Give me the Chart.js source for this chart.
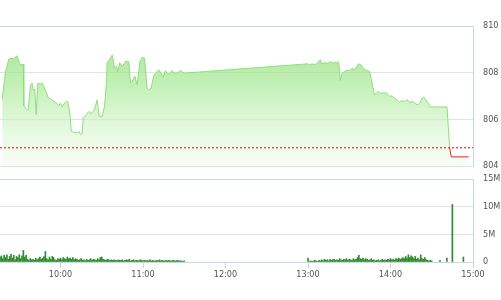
<!DOCTYPE html>
<html lang="vi">
<head>
<meta charset="UTF-8">
<title>Intraday</title>
<style>
  html, body { margin: 0; padding: 0; background: #fff; }
  canvas { position: absolute; left: 0; }
  #priceChart { top: 0; }
  #volChart { top: 170px; }
</style>
</head>
<body>
<canvas id="priceChart" width="501" height="170"></canvas>
<canvas id="volChart" width="501" height="130"></canvas>

<script src="https://cdn.jsdelivr.net/npm/chart.js"></script>
<script>
// time in minutes after midnight
var xMin = 556
var xMax = 900
var hourTicks = [600, 660, 720, 780, 840, 900]
var refPrice = 804.78

var priceTimes = [557.6, 560.0, 562.4, 563.7, 565.9, 568.5, 570.2, 571.4, 572.9, 573.3,
  575.8, 576.5, 578.2, 579.4, 580.2, 581.3, 582.3, 583.5, 585.5, 586.7,
  589.1, 591.1, 592.7, 595.1, 597.6, 598.8, 600.0, 601.2, 603.6, 605.3,
  606.8, 607.8, 609.7, 612.2, 613.3, 614.5, 615.8, 616.5, 618.2, 620.6,
  622.3, 624.7, 626.7, 628.1, 630.3, 632.0, 633.4, 633.9, 635.8, 637.6,
  639.3, 640.7, 641.7, 643.1, 644.9, 647.3, 649.7, 650.9, 652.1, 654.0,
  655.8, 657.7, 659.4, 661.1, 663.0, 664.2, 665.9, 667.8, 669.1, 671.5,
  672.7, 674.7, 676.3, 677.6, 679.5, 681.2, 682.4, 684.8, 687.2, 689.2,
  690.0, 780.0, 781.2, 783.0, 785.4, 787.8, 789.0, 790.2, 792.6, 794.3,
  796.3, 798.2, 799.9, 801.1, 802.3, 803.5, 804.8, 806.5, 808.4, 810.3,
  812.0, 813.7, 815.2, 816.8, 818.6, 820.5, 822.9, 824.8, 826.6, 828.3,
  829.7, 831.4, 833.1, 835.0, 837.5, 839.4, 841.1, 842.8, 844.8, 846.6,
  848.4, 850.1, 852.0, 853.9, 855.7, 857.3, 859.3, 861.2, 862.9, 864.1,
  865.3, 866.6, 867.7, 869.0, 881.1, 883.0, 884.2, 896.8]

var priceValues = [806.88, 808.04, 808.58, 808.62, 808.60, 808.72, 808.40, 808.33, 808.36, 806.58,
  806.41, 806.41, 807.48, 807.55, 807.24, 807.30, 806.20, 807.55, 807.52, 807.55,
  807.24, 806.94, 806.88, 806.77, 806.67, 806.58, 806.70, 806.53, 806.73, 806.77,
  806.27, 805.49, 805.44, 805.42, 805.49, 805.35, 805.39, 806.08, 806.16, 806.34,
  806.24, 806.41, 806.84, 806.13, 806.13, 806.56, 807.55, 808.40, 808.58, 808.76,
  808.19, 808.26, 808.05, 808.43, 808.26, 808.48, 808.48, 807.55, 807.62, 807.86,
  807.48, 808.48, 808.66, 808.62, 807.34, 807.27, 807.34, 807.86, 807.98, 808.12,
  808.01, 807.81, 808.09, 807.95, 807.95, 808.09, 807.98, 807.98, 808.09, 808.01,
  807.98, 808.38, 808.33, 808.38, 808.33, 808.48, 808.55, 808.38, 808.43, 808.40,
  808.48, 808.40, 808.46, 808.40, 808.48, 807.67, 807.98, 808.05, 808.12, 808.09,
  808.19, 808.12, 808.26, 808.38, 808.33, 808.15, 808.09, 808.05, 807.55, 807.05,
  807.13, 807.20, 807.10, 807.15, 807.10, 806.98, 807.01, 806.91, 806.84, 806.73,
  806.81, 806.76, 806.84, 806.73, 806.77, 806.70, 806.63, 806.67, 806.91, 806.95,
  806.87, 806.77, 806.67, 806.53, 806.53, 804.78, 804.39, 804.39]

// volume in millions, one bar per minute
var morningStart = 556
var morningVol = [0.9, 1.1, 0.6, 1.2, 0.8, 1.3, 0.5, 1.0, 1.4, 0.7,
  1.2, 0.4, 1.0, 0.8, 1.3, 0.6, 1.1, 2.1, 0.9, 1.2,
  0.5, 0.3, 0.6, 0.4, 0.5, 0.3, 0.7, 0.4, 0.6, 0.9,
  0.5, 0.7, 1.0, 1.9, 0.6, 0.4, 0.9, 0.5, 1.0, 0.8,
  0.4, 0.3, 0.6, 0.5, 0.7, 0.4, 0.8, 0.6, 0.5, 0.9,
  0.6, 0.7, 0.5, 0.8, 0.4, 0.6, 0.5, 0.3, 0.4, 0.6,
  0.3, 0.4, 0.2, 0.5, 0.3, 0.4, 0.6, 0.3, 0.5, 0.4,
  0.3, 0.6, 0.4, 0.8, 0.9, 0.5, 0.4, 0.3, 0.5, 0.4,
  0.3, 0.4, 0.3, 0.4, 0.3, 0.2, 0.4, 0.3, 0.3, 0.4,
  0.2, 0.3, 0.4, 0.3, 0.5, 0.2, 0.3, 0.4, 0.2, 0.3,
  0.3, 0.2, 0.4, 0.3, 0.2, 0.3, 0.2, 0.3, 0.2, 0.4,
  0.2, 0.3, 0.2, 0.2, 0.3, 0.2, 0.4, 0.2, 0.3, 0.2,
  0.2, 0.3, 0.2, 0.3, 0.2, 0.2, 0.3, 0.2, 0.2, 0.3,
  0.2, 0.2, 0.2, 0.1, 0.2]
var afternoonStart = 780
var afternoonVol = [0.7, 0.1, 0.2, 0.1, 0.2, 0.3, 0.2, 0.1, 0.3, 0.2,
  0.4, 0.2, 0.5, 0.3, 0.4, 0.2, 0.5, 0.3, 0.4, 0.5,
  0.3, 0.4, 0.3, 0.6, 0.4, 0.3, 0.5, 0.4, 0.6, 0.3,
  0.5, 0.4, 0.3, 0.6, 0.4, 0.5, 0.8, 1.2, 0.6, 0.5,
  0.7, 0.4, 0.6, 0.5, 0.3, 0.4, 0.6, 0.3, 0.4, 0.2,
  0.3, 0.4, 0.2, 0.3, 0.5, 0.3, 0.4, 0.3, 0.5, 0.4,
  0.6, 0.4, 0.5, 0.3, 0.6, 0.5, 0.7, 0.5, 0.6, 0.8,
  0.6, 1.0, 0.7, 1.3, 0.8, 1.1, 0.9, 0.6, 1.0, 0.5,
  0.7, 0.4, 1.3, 0.6, 0.5, 0.8, 0.4, 0.3, 0.2, 0.3,
  0.2]
var lateTimes = [876, 881, 885, 893]
var lateVol = [0.3, 0.7, 10.4, 0.9]

var green = '#8edf7b'
var red = '#e41f1f'
var borderBlue = '#c9d6e3'
var gridGrey = '#e2e2e2'
var tickFont = { family: "'Liberation Sans Narrow', 'DejaVu Sans Condensed', Arial, sans-serif", size: 9 }

var pricePoints = priceTimes.map((t, i) => ({ x: t, y: priceValues[i] }))

var volPoints = []
morningVol.forEach((v, i) => volPoints.push({ x: morningStart + i, y: v }))
afternoonVol.forEach((v, i) => volPoints.push({ x: afternoonStart + i, y: v }))
lateVol.forEach((v, i) => volPoints.push({ x: lateTimes[i], y: v }))

const hhmm = (m) => Math.floor(m / 60) + ':' + String(m % 60).padStart(2, '0')

const areaFill = (ctx) => {
  var area = ctx.chart.chartArea
  if (!area) return 'rgba(150,225,130,0.6)'
  var g = ctx.chart.ctx.createLinearGradient(0, area.top, 0, area.bottom)
  g.addColorStop(0, 'rgba(140,222,118,0.85)')
  g.addColorStop(0.45, 'rgba(178,236,162,0.75)')
  g.addColorStop(1, 'rgba(236,250,232,0.4)')
  return g
}

const below = (v) => v < refPrice - 0.001

// no extra room for the end labels, the padding below decides the plot box
const noLabelPad = (s) => { s.paddingTop = 0; s.paddingBottom = 0; s.width = 28 }

new Chart(document.getElementById('priceChart'), {
  type: 'line',
  data: {
    datasets: [{
      data: pricePoints,
      borderColor: green,
      borderWidth: 1,
      backgroundColor: areaFill,
      fill: 'start',
      pointRadius: 0,
      tension: 0,
      segment: {
        borderColor: ctx => (below(ctx.p0.parsed.y) || below(ctx.p1.parsed.y)) ? red : green
      },
      order: 2
    }, {
      data: [{ x: xMin, y: refPrice }, { x: xMax, y: refPrice }],
      borderColor: '#e00000',
      borderWidth: 1,
      borderDash: [2, 2],
      pointRadius: 0,
      fill: false,
      order: 1
    }]
  },
  options: {
    responsive: false,
    animation: false,
    layout: { padding: { top: 26, bottom: 4, left: 0, right: 0 } },
    plugins: { legend: { display: false }, tooltip: { enabled: false } },
    scales: {
      x: {
        type: 'linear', min: xMin, max: xMax, display: false
      },
      y: {
        position: 'right', min: 804, max: 810,
        ticks: { stepSize: 2, padding: 10, color: '#555', font: tickFont },
        grid: {
          drawTicks: false,
          color: ctx => ctx.tick && ctx.tick.value === 810 ? borderBlue : gridGrey
        },
        border: { display: true, color: borderBlue },
        afterFit: noLabelPad
      }
    }
  }
})

new Chart(document.getElementById('volChart'), {
  type: 'bar',
  data: {
    datasets: [{
      data: volPoints,
      backgroundColor: '#2e8b2e',
      barThickness: 1,
      borderWidth: 0
    }]
  },
  options: {
    responsive: false,
    animation: false,
    layout: { padding: { top: 9, bottom: 0, left: 0, right: 0 } },
    plugins: { legend: { display: false }, tooltip: { enabled: false } },
    scales: {
      x: {
        type: 'linear', min: xMin, max: xMax, offset: false,
        afterBuildTicks: s => { s.ticks = hourTicks.map(v => ({ value: v })) },
        ticks: { color: '#555', font: tickFont, padding: 1, maxRotation: 0, callback: v => hhmm(v) },
        grid: { offset: false, drawOnChartArea: false, drawTicks: true, tickLength: 6, color: borderBlue },
        border: { display: true, color: borderBlue },
        afterFit: s => { s.height = 38; s.paddingLeft = 0; s.paddingRight = 0 }
      },
      y: {
        position: 'right', min: 0, max: 15,
        ticks: { stepSize: 5, padding: 10, color: '#555', font: tickFont, callback: v => v === 0 ? '0' : v + 'M' },
        grid: {
          drawTicks: false,
          color: ctx => ctx.tick && (ctx.tick.value === 15 || ctx.tick.value === 0) ? borderBlue : gridGrey
        },
        border: { display: true, color: borderBlue },
        afterFit: noLabelPad
      }
    }
  }
})
</script>
</body>
</html>
